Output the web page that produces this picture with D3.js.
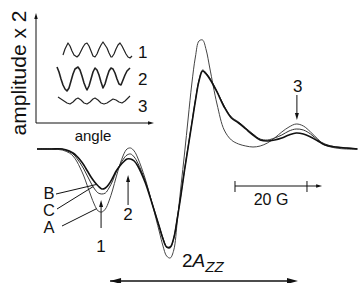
<!DOCTYPE html>
<html><head><meta charset="utf-8">
<script src="https://cdn.jsdelivr.net/npm/d3@7"></script>
<style>
html,body{margin:0;padding:0;background:#fff;}
svg{display:block;font-family:"Liberation Sans",Arial,Helvetica,sans-serif;}
</style></head><body>
<svg id="chart" width="360" height="283"></svg>
<script>
// ---- Main EPR spectra (field in Gauss, amplitude in arbitrary units) ----
const field = [0,4,7,9,10,11,12,13,14,15,16,17,18,19,20,21,22,23,24,25,26,27,28,30,32,34,35,36,37,38,39,40,41,42,43,44,45,46,47,48,50,52,54,56,58,60,62,64,66,68,70,72,74,76,78,80,83,86,89];
const ampA = [0,0,-1,-4,-7,-12,-19,-27,-37,-47,-56,-62,-63,-60,-52,-41,-28,-16,-6,0,1,-2,-9,-29,-55,-83,-97,-107,-109,-101,-71,-37,-4,31,65,92,108,109,99,81,45,19,9,5,3,2,3,6,11,17,22,25,23,17,10,4,1,0,0];
const ampB = [0,0,0,-2,-4,-7,-11,-16,-22,-28,-33,-37,-40,-39,-35,-29,-22,-17,-13,-10,-10,-12,-17,-33,-55,-78,-90,-98,-98,-89,-69,-46,-21,2,25,48,68,78,75,70,57,42,31,26,20,14,9,8,9,11,14,16,15,12,8,4,2,1,0];
const ampC = [0,0,0,-3,-5,-9,-14,-20,-27,-34,-40,-44,-45,-44,-39,-32,-23,-16,-10,-6,-5,-8,-14,-31,-54,-78,-89,-98,-99,-89,-68,-45,-20,3,26,49,69,79,76,71,58,43,32,27,21,15,10,9,11,14,18,20,19,15,9,5,2,1,0];
const curveNames = ["A","B","C"];

// ---- Inset: amplitude vs angle for the three positions ----
const insetAngle1 = [27,29,32,34,36,38,41,43,45,47,49,51,53,55,57,59,61,63,65,67,69,71,73,75,76,78,80,82,84,86,88,90,92,94,96];
const insetAmp1   = [68,74,80,77,72,68,66,68,72,76,79,80,77,72,67,66,69,74,78,81,78,75,70,66,66,69,74,78,80,77,73,69,66,65,67];
const insetAngle2 = [21,23,25,27,29,31,33,35,37,39,42,44,46,48,50,51,53,55,57,59,61,63,65,67,69,71,73,75,77,79,81,83,85,87,89,91,94];
const insetAmp2   = [56,51,44,38,34,32,35,42,49,54,56,53,47,40,35,33,37,44,51,55,53,48,41,35,39,46,52,55,54,50,44,39,38,43,48,52,55];
const insetAngle3 = [22,25,28,31,34,37,40,42,45,48,51,54,57,59,62,65,68,71,74,77,80,83,86,89,92,94];
const insetAmp3   = [26,24,22,20,19,21,24,25,23,20,19,21,24,25,23,20,19,20,22,24,23,21,20,22,25,27];
const insetLabels = ["1","2","3"];

const scaleBarGauss = 20;

// ---- Layout ----
const svg = d3.select("#chart");
svg.append("rect").attr("width",360).attr("height",283).attr("fill","#fff");

const x = d3.scaleLinear().domain([0, 89.2]).range([37, 358.1]);
const y = d3.scaleLinear().domain([-120, 120]).range([269, 29]);

const ix = d3.scaleLinear().domain([0, 117]).range([36, 153]);
const iy = d3.scaleLinear().domain([0, 108]).range([123, 15]);

function head(g, x2, y2, ang, len, w, col) {
  const c = Math.cos(ang), s = Math.sin(ang);
  const bx = x2 - c*len, by = y2 - s*len;
  g.append("path")
    .attr("d", `M${x2},${y2} L${bx - s*w/2},${by + c*w/2} L${bx + s*w/2},${by - c*w/2} Z`)
    .attr("fill", col);
}
function arrow(g, x1, y1, x2, y2, opt) {
  const o = Object.assign({len:7, w:4.5, sw:1, col:"#111", both:false}, opt||{});
  const ang = Math.atan2(y2-y1, x2-x1);
  g.append("line").attr("x1",x1).attr("y1",y1).attr("x2",x2 - Math.cos(ang)*o.len*0.6).attr("y2",y2 - Math.sin(ang)*o.len*0.6)
    .attr("stroke",o.col).attr("stroke-width",o.sw);
  head(g, x2, y2, ang, o.len, o.w, o.col);
  if (o.both) head(g, x1, y1, ang+Math.PI, o.len, o.w, o.col);
}

// ---- Inset ----
const ins = svg.append("g");
arrow(ins, ix(0), iy(0), ix(0), iy(110), {len:6, w:3.5, sw:1});
arrow(ins, ix(0), iy(0), ix(118), iy(0), {len:6, w:3.5, sw:1});
ins.append("text").attr("transform",`translate(26,${iy(50)}) rotate(-90)`)
  .attr("text-anchor","middle").attr("font-size",21).attr("fill","#111").text("amplitude x 2");
ins.append("text").attr("x",ix(57)).attr("y",141).attr("text-anchor","middle")
  .attr("font-size",15).attr("fill","#111").text("angle");

const iline = d3.line().x(d=>ix(d[0])).y(d=>iy(d[1])).curve(d3.curveLinear);
const insetSeries = [
  {a:insetAngle1, v:insetAmp1, sw:1.2},
  {a:insetAngle2, v:insetAmp2, sw:1.6},
  {a:insetAngle3, v:insetAmp3, sw:1.1}
];
insetSeries.forEach((s,i)=>{
  ins.append("path").attr("d", iline(s.a.map((a,k)=>[a, s.v[k]])))
    .attr("fill","none").attr("stroke","#222").attr("stroke-width",s.sw).attr("stroke-linejoin","round");
  ins.append("text").attr("x",ix(102)).attr("y",[58,85,111.5][i]).attr("text-anchor","start")
    .attr("font-size",17).attr("fill","#111").text(insetLabels[i]);
});

// ---- Spectra ----
const line = d3.line().x((d,i)=>x(field[i])).y(d=>y(d)).curve(d3.curveCatmullRom.alpha(0.5));
const g = svg.append("g");
g.append("path").attr("d", line(ampA)).attr("fill","none").attr("stroke","#444").attr("stroke-width",1);
g.append("path").attr("d", line(ampC)).attr("fill","none").attr("stroke","#333").attr("stroke-width",1);
g.append("path").attr("d", line(ampB)).attr("fill","none").attr("stroke","#111").attr("stroke-width",1.6);

// labels A, B, C with pointer lines
const lab = [
  {t:"B", ty:199, lx1:56, ly1:194, f:16.6, c:ampB},
  {t:"C", ty:216, lx1:57, ly1:209, f:15.6, c:ampC},
  {t:"A", ty:233, lx1:62, ly1:226, f:16.6, c:ampA}
];
function interp(arr, f){ return d3.scaleLinear().domain(field).range(arr)(f); }
lab.forEach(L=>{
  g.append("text").attr("x",49).attr("y",L.ty).attr("text-anchor","middle").attr("font-size",16.5).attr("fill","#111").text(L.t);
  g.append("line").attr("x1",L.lx1).attr("y1",L.ly1).attr("x2",x(L.f)).attr("y2",y(interp(L.c,L.f)))
    .attr("stroke","#111").attr("stroke-width",1);
});

// numbered arrows
arrow(g, x(17.8), 228, x(17.8), 200, {len:7, w:4});
g.append("text").attr("x",x(17.8)).attr("y",252).attr("text-anchor","middle").attr("font-size",17).attr("fill","#111").text("1");
arrow(g, x(25.3), 205, x(25.3), 175, {len:7, w:4});
g.append("text").attr("x",x(25.3)).attr("y",220).attr("text-anchor","middle").attr("font-size",17).attr("fill","#111").text("2");
arrow(g, x(72.2), 95, x(72.2), 120, {len:7, w:4});
g.append("text").attr("x",x(72.4)).attr("y",91.5).attr("text-anchor","middle").attr("font-size",17).attr("fill","#111").text("3");

// 20 G scale bar
const sb0 = 55, sb1 = sb0 + scaleBarGauss;
arrow(g, x(sb0), 186, x(79.2), 186, {len:6, w:3.5, sw:1});
[sb0, sb1].forEach(v=>g.append("line").attr("x1",x(v)).attr("x2",x(v)).attr("y1",181).attr("y2",192).attr("stroke","#111").attr("stroke-width",1));
g.append("text").attr("x",x((sb0+sb1)/2)).attr("y",205).attr("text-anchor","middle").attr("font-size",16).attr("fill","#111").text(scaleBarGauss + " G");

// 2Azz
arrow(g, x(20.3), 281, x(72.5), 281, {len:11, w:6, sw:1.5, both:true});
const t = g.append("text").attr("x",182).attr("y",267).attr("font-size",19).attr("fill","#111");
t.append("tspan").text("2");
t.append("tspan").attr("font-style","italic").text("A");
t.append("tspan").attr("font-style","italic").attr("font-size",15).attr("dy",5).text("ZZ");
</script>
</body></html>
